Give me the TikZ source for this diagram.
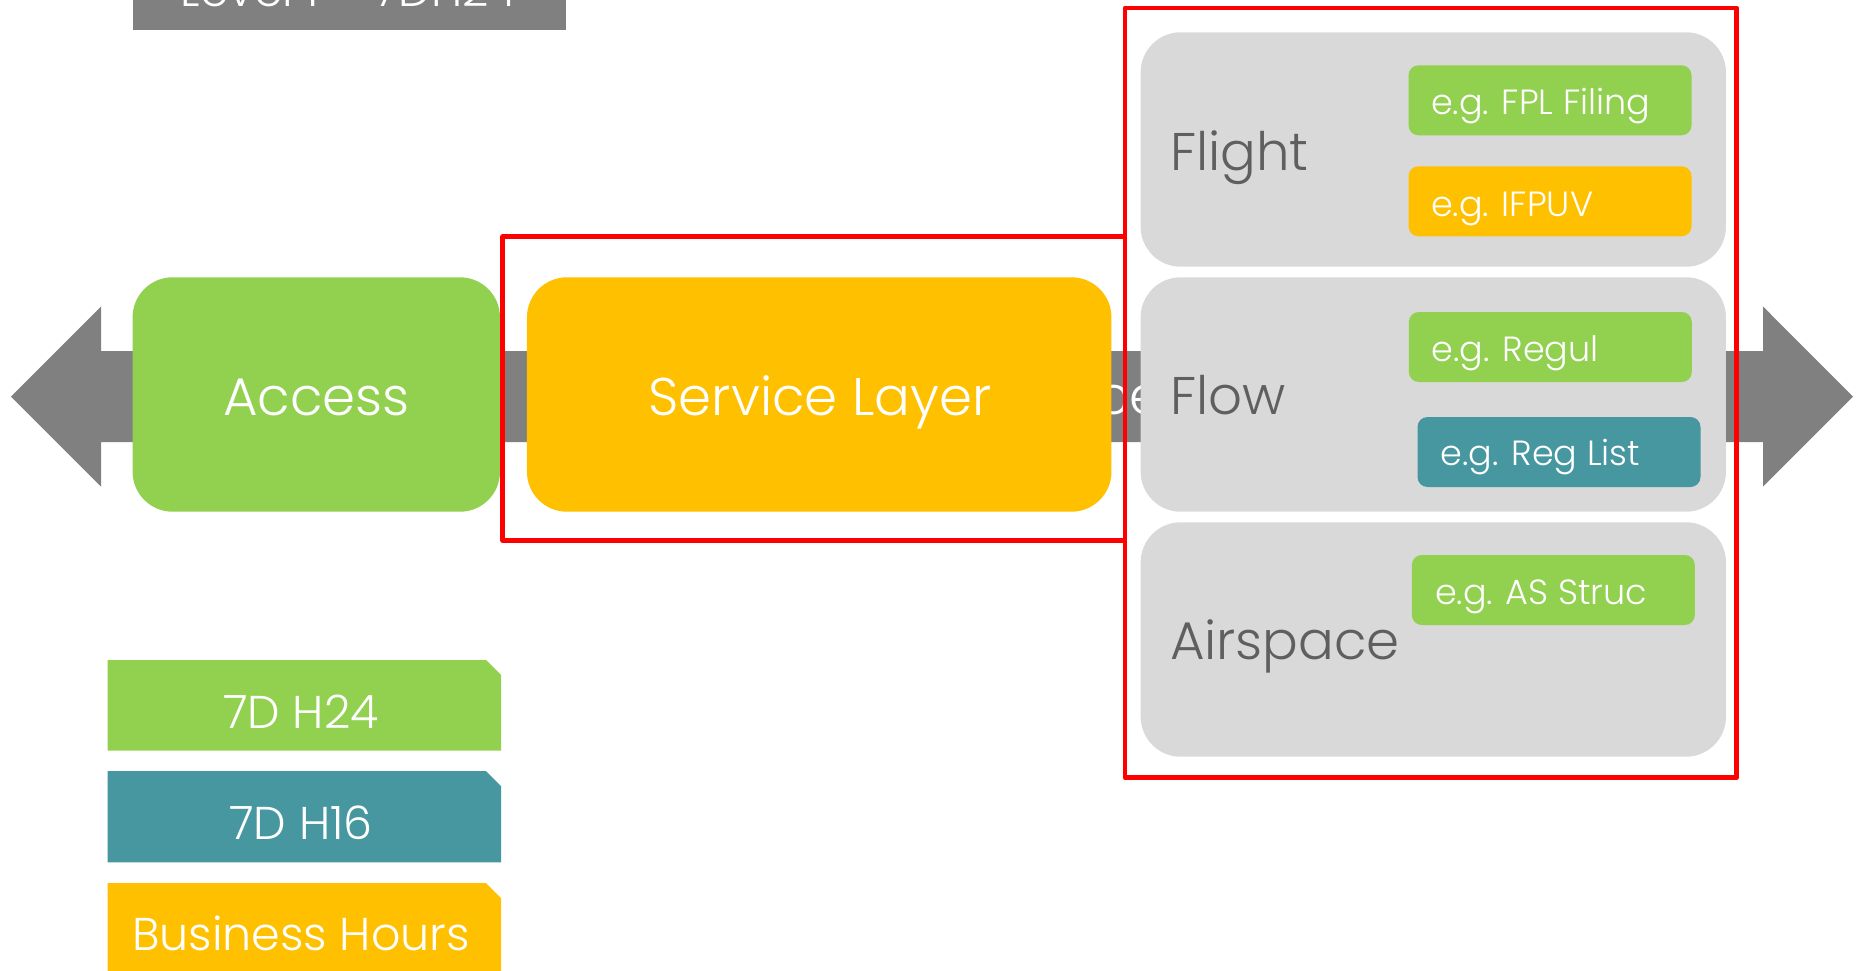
\documentclass[tikz,border=0pt]{standalone}
\usepackage{fontspec}
\setmainfont{Poppins}[UprightFont=* Light]
\definecolor{grn}{HTML}{92D050}
\definecolor{ylw}{HTML}{FFC000}
\definecolor{teal}{HTML}{46979F}
\definecolor{arrgray}{HTML}{808080}
\definecolor{panel}{HTML}{D9D9D9}
\definecolor{dtext}{HTML}{5F5F5F}
\definecolor{redline}{HTML}{FF0000}
\tikzset{
  bigbox/.style={draw=none, inner sep=0pt, outer sep=0pt, rounded corners=40pt},
  smallbox/.style={draw=none, inner sep=0pt, outer sep=0pt, rounded corners=10pt, minimum width=283pt, minimum height=70pt},
  bigtext/.style={inner sep=0pt, outer sep=0pt, text=white, font=\fontsize{53}{60}\selectfont},
  paneltext/.style={inner sep=0pt, outer sep=0pt, text=dtext, font=\fontsize{53}{60}\selectfont, anchor=base west},
  smalltext/.style={inner sep=0pt, outer sep=0pt, text=white, font=\fontsize{35}{40}\selectfont, anchor=base west},
  legtext/.style={inner sep=0pt, outer sep=0pt, text=white, font=\fontsize{46}{52}\selectfont, anchor=base},
  redframe/.style={draw=redline, line width=4.5pt, line join=round},
}
\begin{document}
\begin{tikzpicture}[x=1pt,y=-1pt]
\useasboundingbox (0,0) rectangle (1856,971);
\clip (0,0) rectangle (1856,971);
\fill[white] (0,0) rectangle (1856,971);

% top label (cut off)
\fill[arrgray] (133,-80) rectangle (566,30);
\node[legtext] (toplabel) at (349,7) {Level 1 – 7DH24};

% double arrow
\fill[arrgray] (11,396.7) -- (101,306.5) -- (101,351) -- (1763,351) -- (1763,306.5)
  -- (1853,396.7) -- (1763,486.5) -- (1763,442) -- (101,442) -- (101,486.5) -- cycle;
\node[bigtext, anchor=base west] (ce) at (1097,414.5) {ce};

% main boxes
\node[bigbox, fill=grn, minimum width=367.4pt, minimum height=234.4pt] (access) at (316.3,394.5) {};
\node[bigtext, anchor=base] (accesst) at (316.5,415) {Access};
\node[bigbox, fill=ylw, minimum width=584.5pt, minimum height=234.4pt] (service) at (819.2,394.5) {};
\node[bigtext, anchor=base] (servicet) at (820,415) {Service Layer};

% panels
\node[bigbox, fill=panel, minimum width=585.3pt, minimum height=234.4pt] (flight) at (1433.3,149.5) {};
\node[bigbox, fill=panel, minimum width=585.3pt, minimum height=234.4pt] (flow) at (1433.3,394.5) {};
\node[bigbox, fill=panel, minimum width=585.3pt, minimum height=234.4pt] (airspace) at (1433.3,639.5) {};
\node[paneltext] (flightt) at (1170,170.7) {Flight};
\node[paneltext] (flowt) at (1170,414.3) {Flow};
\node[paneltext] (airspacet) at (1170,659.3) {Airspace};

% inner boxes
\node[smallbox, fill=grn] (fpl) at (1550,100.3) {};
\node[smalltext] (fplt) at (1431,114.3) {e.g. FPL Filing};
\node[smallbox, fill=ylw] (ifpuv) at (1550,201.3) {};
\node[smalltext] (ifpuvt) at (1431,216) {e.g. IFPUV};
\node[smallbox, fill=grn] (regul) at (1550.3,347) {};
\node[smalltext] (regult) at (1431.7,361.7) {e.g. Regul};
\node[smallbox, fill=teal] (reglist) at (1559,452) {};
\node[smalltext] (reglistt) at (1440.7,465.7) {e.g. Reg List};
\node[smallbox, fill=grn] (asstruc) at (1553.3,590) {};
\node[smalltext] (asstruct) at (1435,604.3) {e.g. AS Struc};

% red frames
\draw[redframe] (502.7,236.7) rectangle (1125,540.5);
\draw[redframe] (1125,8) rectangle (1736.7,777.7);

% legend
\fill[grn] (107.5,660) -- (486,660) -- (501,675) -- (501,750.5) -- (107.5,750.5) -- cycle;
\node[legtext] (l24) at (301,728.3) {7D H24};
\fill[teal] (107.5,771) -- (486,771) -- (501,786) -- (501,862.3) -- (107.5,862.3) -- cycle;
\node[legtext] (l16) at (301,839) {7D H16};
\fill[ylw] (107.5,883) -- (486,883) -- (501,898) -- (501,990) -- (107.5,990) -- cycle;
\node[legtext] (lbh) at (301,950.7) {Business Hours};
\end{tikzpicture}
\end{document}
